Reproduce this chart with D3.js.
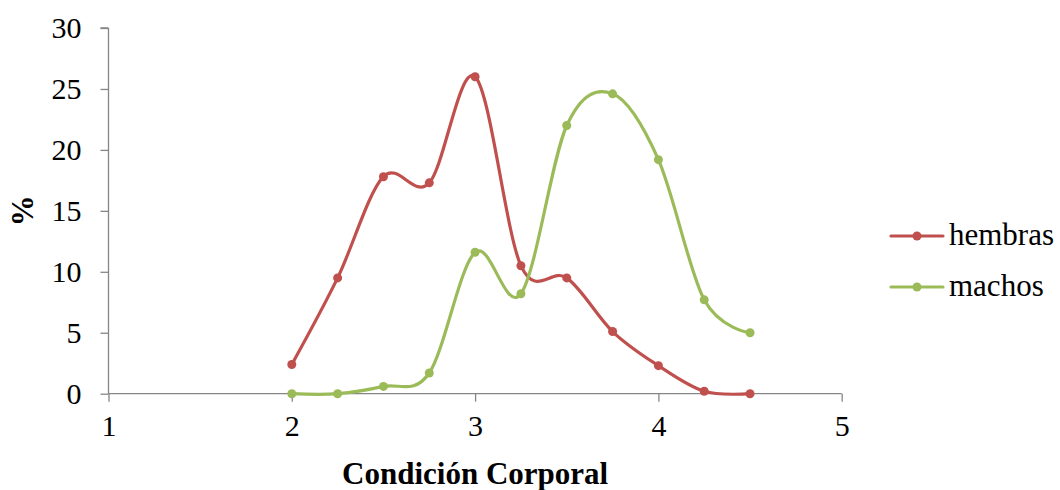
<!DOCTYPE html>
<html>
<head>
<meta charset="utf-8">
<script src="https://cdn.jsdelivr.net/npm/d3@7"></script>
<style>
  html, body { margin: 0; padding: 0; background: #fff; }
  svg text { font-family: "Liberation Serif", "Times New Roman", serif; }
</style>
</head>
<body>
<svg id="chart" width="1060" height="490" style="display:block"></svg>
<script>
// Condición corporal (x) and percentage of animals per class (y)
const condicion = [2, 2.25, 2.5, 2.75, 3, 3.25, 3.5, 3.75, 4, 4.25, 4.5];
const hembras = [2.4, 9.5, 17.8, 17.3, 26.0, 10.5, 9.5, 5.1, 2.3, 0.2, 0.0];
const machos  = [0.0, 0.0, 0.6, 1.7, 11.6, 8.2, 22.0, 24.6, 19.2, 7.7, 5.0];
const xTicks = [1, 2, 3, 4, 5];
const yTicks = [0, 5, 10, 15, 20, 25, 30];

const series = [
  { name: "hembras", values: hembras, color: "#C0504D" },
  { name: "machos",  values: machos,  color: "#9BBB59" }
];

const svg = d3.select("#chart");
const axisColor = "#868686";
const serif = '"Liberation Serif", "Times New Roman", serif';

const x = d3.scaleLinear().domain([1, 5]).range([108.5, 841.7]);
const y = d3.scaleLinear().domain([0, 30]).range([393.7, 28]);

// Y axis
const yAxis = svg.append("g")
  .attr("transform", `translate(${x(1)},0)`)
  .call(d3.axisLeft(y).tickValues(yTicks).tickSize(8).tickPadding(19).tickFormat(d3.format("d")));
yAxis.attr("font-family", null);
yAxis.select(".domain").attr("stroke", axisColor).attr("stroke-width", 1.3).attr("d", `M0,${y(30)}H-8M0,${y(30)}V${y(0)}`);
yAxis.selectAll(".tick line").attr("stroke", axisColor).attr("stroke-width", 1.3);
yAxis.selectAll(".tick text").attr("fill", "#000")
  .style("font-family", serif).style("font-size", "30px");

// X axis
const xAxis = svg.append("g")
  .attr("transform", `translate(0,${y(0)})`)
  .call(d3.axisBottom(x).tickValues(xTicks).tickSize(8).tickPadding(13).tickFormat(d3.format("d")));
xAxis.attr("font-family", null);
xAxis.select(".domain").attr("stroke", axisColor).attr("stroke-width", 1.3).attr("d", `M${x(1)},0H${x(5)}`);
xAxis.selectAll(".tick line").attr("stroke", axisColor).attr("stroke-width", 1.3);
xAxis.selectAll(".tick text").attr("fill", "#000")
  .style("font-family", serif).style("font-size", "30px");

// Axis titles
svg.append("text")
  .attr("x", x(3)).attr("y", 484)
  .attr("text-anchor", "middle")
  .style("font-size", "31px").style("font-weight", "bold")
  .text("Condición Corporal");

svg.append("text")
  .attr("transform", `translate(33,${(y(0) + y(30)) / 2}) rotate(-90)`)
  .attr("text-anchor", "middle")
  .style("font-size", "31px").style("font-weight", "bold")
  .text("%");

// Smoothed lines with markers
const line = d3.line()
  .x((d, i) => x(condicion[i]))
  .y(d => y(d))
  .curve(d3.curveCardinal.tension(0));

series.forEach(s => {
  const g = svg.append("g");
  g.append("path")
    .attr("d", line(s.values))
    .attr("fill", "none")
    .attr("stroke", s.color)
    .attr("stroke-width", 3.2)
    .attr("stroke-linejoin", "round")
    .attr("stroke-linecap", "round");
  g.selectAll("circle")
    .data(s.values)
    .join("circle")
    .attr("cx", (d, i) => x(condicion[i]))
    .attr("cy", d => y(d))
    .attr("r", 4.5)
    .attr("fill", s.color);
});

// Legend
const legend = svg.append("g");
series.forEach((s, i) => {
  const cy = 236 + i * 51;
  legend.append("line")
    .attr("x1", 891).attr("x2", 943)
    .attr("y1", cy).attr("y2", cy)
    .attr("stroke", s.color).attr("stroke-width", 3.2)
    .attr("stroke-linecap", "round");
  legend.append("circle")
    .attr("cx", 917).attr("cy", cy).attr("r", 4.5)
    .attr("fill", s.color);
  legend.append("text")
    .attr("x", 949).attr("y", cy + 9)
    .style("font-size", "31px")
    .attr("fill", "#000")
    .text(s.name);
});
</script>
</body>
</html>
